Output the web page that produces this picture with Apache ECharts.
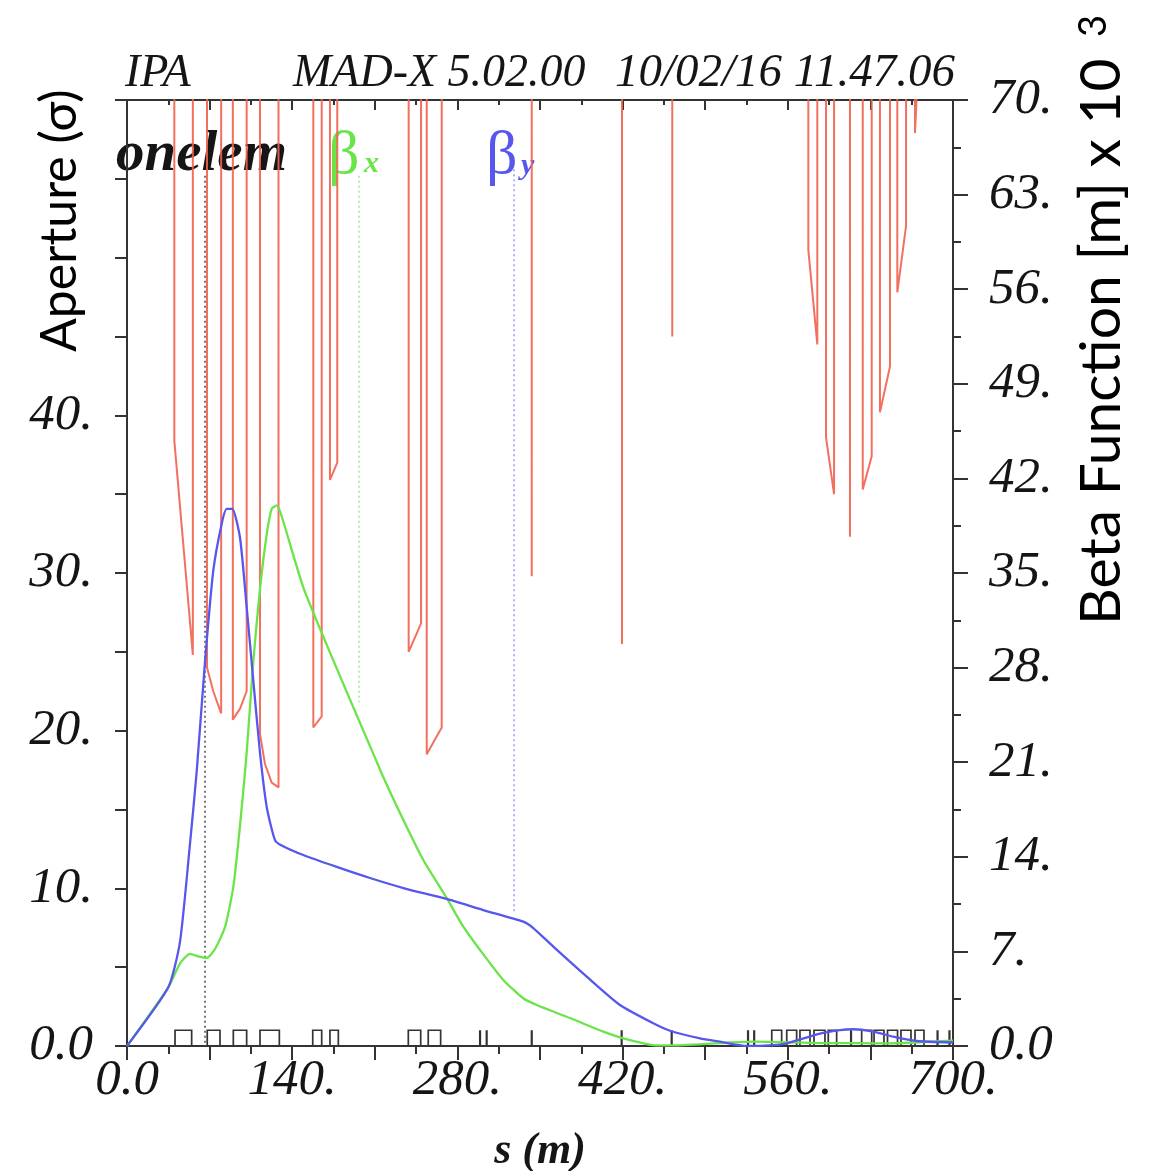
<!DOCTYPE html>
<html><head><meta charset="utf-8">
<script src="https://cdn.jsdelivr.net/npm/echarts@6/dist/echarts.min.js"></script>
<style>html,body{margin:0;padding:0;background:#fff}#c{width:1165px;height:1171px}</style>
</head><body><div id="c"></div>
<script>
// ---- data (s in m; aperture in sigma; beta in 1e3 m) ----
const xLabelValues = [0, 140, 280, 420, 560, 700];
const xLabelTexts = ['0.0', '140.', '280.', '420.', '560.', '700.'];
const apLabelValues = [0, 10, 20, 30, 40];
const apLabelTexts = ['0.0', '10.', '20.', '30.', '40.'];
const betaLabelValues = [0, 7, 14, 21, 28, 35, 42, 49, 56, 63, 70];
const betaLabelTexts = ['0.0', '7.', '14.', '21.', '28.', '35.', '42.', '49.', '56.', '63.', '70.'];

// aperture polyline; 100 = beyond the top of the plot (drift sections)
const aperture = [
  [40.1,100],[40.1,38.4],[55.8,24.8],[55.8,100],
  [67.8,100],[67.8,24.0],[73.1,22.5],[79.8,21.1],[79.8,100],
  [89.7,100],[89.7,20.7],[95.8,21.4],[101.4,22.5],[101.4,100],
  [112.7,100],[112.7,19.8],[116.9,17.9],[122.6,16.7],[128.4,16.4],[128.4,100],
  [157.9,100],[157.9,20.2],[165.0,20.9],[165.0,100],
  [172.0,100],[172.0,35.9],[178.2,37.0],[178.2,100],
  [238.7,100],[238.7,25.0],[249.2,26.8],[249.2,100],
  [254.0,100],[254.0,18.5],[266.7,20.2],[266.7,100],
  [343.0,100],[343.0,29.8],[343.0,100],
  [419.5,100],[419.5,25.5],[419.5,100],
  [462.1,100],[462.1,45.0],[462.1,100],
  [577.4,100],[577.4,50.5],[585.0,44.5],[585.0,100],
  [592.4,100],[592.4,38.6],[599.2,35.0],[599.2,100],
  [612.7,100],[612.7,32.3],[612.7,100],
  [623.5,100],[623.5,35.3],[631.1,37.4],[631.1,100],
  [638.1,100],[638.1,40.2],[646.6,43.1],[646.6,100],
  [652.8,100],[652.8,47.8],[660.2,52.0],[660.2,100],
  [667.8,100],[667.8,57.9],[669.7,61.0],[669.7,100]
];

const betaX = [
  [0,0],[35.0,4.34],[44.9,6.10],[53.4,6.82],[60.4,6.63],[67.5,6.51],[74.6,7.18],[83.1,8.81],
  [90.1,11.77],[95.8,16.35],[101.4,21.68],[107.0,28.42],[112.7,33.82],[118.4,37.85],[122.6,39.74],
  [126.9,40.0],[131.1,39.2],[150.8,33.6],[217.2,19.9],[234.2,16.72],
  [251.1,13.76],[270.9,10.95],[285.0,8.83],[299.2,7.10],[318.9,4.88],[335.8,3.53],[347.2,3.03],
  [375.4,2.07],[403.6,1.06],[420.6,0.57],[446.0,0.07],[460.2,0.04],[502.5,0.22],[530.5,0.32],
  [587.3,0.22],[643.8,0.20],[700,0.39]
];

const betaY = [
  [0,0],[35.0,4.34],[44.9,7.70],[53.4,14.98],[59.1,20.35],[66.1,28.42],[73.1,35.15],[80.3,38.66],
  [84.5,39.74],[89.2,39.74],[95.8,37.59],[101.4,32.49],[107.0,27.08],[112.7,21.70],[118.4,17.69],
  [125.4,15.24],[131.1,14.84],[149.4,14.13],[177.7,13.25],[205.9,12.43],[234.2,11.69],[270.9,10.88],
  [301.9,10.06],[335.8,9.20],[344.3,8.73],[361.3,7.35],[389.6,5.13],[417.8,3.03],[446.0,1.68],
  [460.2,1.13],[485.6,0.57],[502.5,0.32],[525.2,0.0],[547.7,0.07],[559.1,0.20],[587.3,0.92],
  [604.2,1.18],[615.5,1.24],[632.5,1.06],[649.4,0.69],[669.2,0.37],[700,0.26]
];

// lattice elements along s: [start, end] (equal = thin element)
const elements = [
  [40.7,54.8],[68.0,78.8],[90.1,101.4],[112.7,129.1],[157.4,165.0],[172.0,179.1],
  [238.4,248.9],[255.3,265.8],[299.2,299.2],[304.8,304.8],[343.0,343.0],[419.2,419.2],
  [461.6,461.6],[526.3,526.3],[531.5,531.5],
  [546.4,554.8],[559.1,567.5],[570.3,578.8],[582.2,591.5],[594.3,601.4],[613.6,613.6],
  [622.6,631.1],[633.1,641.5],[644.5,653.0],[655.9,664.4],[667.8,675.4],[686.9,686.9],[697.0,697.0]
];

// label guide lines (s, aperture)
const guideBlack = [[66.1,55.2],[66.1,0]];
const guideX = [[196.6,55.2],[196.6,21.8]];
const guideY = [[328.0,55.6],[328.0,8.5]];

// ---- chart ----
const SERIF = '"Liberation Serif", "Times New Roman", serif';
const SANS = 'Lato, "Open Sans", sans-serif';
const AX = '#333';
const GREEN = '#6ae449';
const BLUE = '#5757ee';
const RED = '#f2604e';
const ELEM_H = 1.0;

function pick(vals, texts) {
  return function (v) { const i = vals.indexOf(Math.round(v * 1000) / 1000); return i >= 0 ? texts[i] : ''; };
}
const lblStyle = { fontFamily: SERIF, fontStyle: 'italic', fontSize: 51, color: '#151515' };

const chart = echarts.init(document.getElementById('c'), null, { renderer: 'canvas' });
chart.setOption({
  animation: false,
  backgroundColor: '#fff',
  grid: { left: 127, right: 212, top: 100, bottom: 125, containLabel: false, outerBoundsMode: 'none' },
  xAxis: [
    {
      type: 'value', position: 'bottom', min: 0, max: 700, interval: 70,
      axisLine: { show: true, onZero: false, lineStyle: { color: AX, width: 2 } },
      axisTick: { show: true, length: 14, lineStyle: { color: AX, width: 2 } },
      minorTick: { show: true, splitNumber: 2, length: 8, lineStyle: { color: AX, width: 2 } },
      splitLine: { show: false },
      axisLabel: Object.assign({ margin: 9, formatter: pick(xLabelValues, xLabelTexts) }, lblStyle),
      name: 's (m)', nameLocation: 'middle', nameGap: 84,
      nameTextStyle: { fontFamily: SERIF, fontStyle: 'italic', fontWeight: 'bold', fontSize: 44, color: '#151515' }
    },
    {
      type: 'value', position: 'top', min: 0, max: 700, interval: 70,
      axisLine: { show: true, onZero: false, lineStyle: { color: AX, width: 2 } },
      axisTick: { show: true, inside: true, length: 10, lineStyle: { color: AX, width: 2 } },
      minorTick: { show: true, splitNumber: 2, length: 5, lineStyle: { color: AX, width: 2 } },
      splitLine: { show: false },
      axisLabel: { show: false }
    }
  ],
  yAxis: [
    {
      type: 'value', position: 'left', min: 0, max: 60, interval: 10,
      axisLine: { show: true, onZero: false, lineStyle: { color: AX, width: 2 } },
      axisTick: { show: true, length: 12, lineStyle: { color: AX, width: 2 } },
      minorTick: { show: true, splitNumber: 2, length: 12, lineStyle: { color: AX, width: 2 } },
      splitLine: { show: false },
      axisLabel: Object.assign({ margin: 34, formatter: pick(apLabelValues, apLabelTexts) }, lblStyle)
    },
    {
      type: 'value', position: 'right', min: 0, max: 70, interval: 7,
      axisLine: { show: true, onZero: false, lineStyle: { color: AX, width: 2 } },
      axisTick: { show: true, length: 15, lineStyle: { color: AX, width: 2 } },
      minorTick: { show: true, splitNumber: 2, length: 8, lineStyle: { color: AX, width: 2 } },
      splitLine: { show: false },
      axisLabel: Object.assign({ margin: 36, formatter: pick(betaLabelValues, betaLabelTexts) }, lblStyle)
    }
  ],
  series: [
    {
      name: 'aperture', type: 'line', xAxisIndex: 0, yAxisIndex: 0, data: aperture,
      symbol: 'none', clip: true, lineStyle: { color: RED, width: 2, opacity: 0.9 }, z: 3
    },
    {
      name: 'elements', type: 'custom', xAxisIndex: 0, yAxisIndex: 0, data: elements,
      encode: { x: [0, 1] }, clip: true, z: 4,
      renderItem: function (params, api) {
        const s1 = api.value(0), s2 = api.value(1);
        const p0 = api.coord([s1, 0]), p1 = api.coord([s1, ELEM_H]);
        const p2 = api.coord([s2, ELEM_H]), p3 = api.coord([s2, 0]);
        const pts = s1 === s2 ? [p0, p1] : [p0, p1, p2, p3];
        return { type: 'polyline', shape: { points: pts }, style: { stroke: '#333', lineWidth: s1 === s2 ? 2.2 : 1.7, fill: null } };
      }
    },
    {
      name: 'guide', type: 'line', yAxisIndex: 0, data: guideBlack, symbol: 'none',
      lineStyle: { color: '#555', width: 1.6, type: [2, 3] }, z: 2
    },
    {
      name: 'guideX', type: 'line', yAxisIndex: 0, data: guideX, symbol: 'none',
      lineStyle: { color: '#9ef088', width: 1.6, type: [2, 3] }, z: 2
    },
    {
      name: 'guideY', type: 'line', yAxisIndex: 0, data: guideY, symbol: 'none',
      lineStyle: { color: '#a0a0f8', width: 1.6, type: [2, 3] }, z: 2
    },
    {
      name: 'betx', type: 'line', xAxisIndex: 0, yAxisIndex: 1, data: betaX,
      symbol: 'none', smooth: 0.2, lineStyle: { color: GREEN, width: 2.3 }, z: 5
    },
    {
      name: 'bety', type: 'line', xAxisIndex: 0, yAxisIndex: 1, data: betaY,
      symbol: 'none', smooth: 0.2, lineStyle: { color: BLUE, width: 2.3 }, z: 5
    }
  ],
  graphic: [
    { type: 'text', x: 125, y: 74, style: { text: 'IPA', font: 'italic 46px ' + SERIF, fill: '#151515', textVerticalAlign: 'middle' } },
    { type: 'text', x: 293, y: 74, style: { text: 'MAD-X 5.02.00', font: 'italic 46px ' + SERIF, fill: '#151515', textVerticalAlign: 'middle' } },
    { type: 'text', x: 615, y: 74, style: { text: '10/02/16 11.47.06', font: 'italic 47px ' + SERIF, fill: '#151515', textVerticalAlign: 'middle' } },
    { type: 'text', x: 116, y: 155, style: { text: 'onelem', font: 'italic bold 57px ' + SERIF, fill: '#151515', textVerticalAlign: 'middle' } },
    { type: 'text', x: 328, y: 157, style: { text: 'β', font: '62px ' + SERIF, fill: GREEN, textVerticalAlign: 'middle' } },
    { type: 'text', x: 364, y: 164, style: { text: 'x', font: 'italic bold 30px ' + SERIF, fill: GREEN, textVerticalAlign: 'middle' } },
    { type: 'text', x: 486, y: 157, style: { text: 'β', font: '62px ' + SERIF, fill: BLUE, textVerticalAlign: 'middle' } },
    { type: 'text', x: 521, y: 166, style: { text: 'y', font: 'italic bold 30px ' + SERIF, fill: BLUE, textVerticalAlign: 'middle' } },
    { type: 'text', x: 60, y: 352, rotation: Math.PI / 2, style: { text: 'Aperture (σ)', font: '50px ' + SANS, fill: '#000', textAlign: 'left', textVerticalAlign: 'middle' } },
    { type: 'text', x: 1102, y: 625, rotation: Math.PI / 2, style: { text: 'Beta Function [m] x 10', font: '57px ' + SANS, fill: '#000', textAlign: 'left', textVerticalAlign: 'middle' } },
    { type: 'text', x: 1094, y: 26, rotation: Math.PI / 2, style: { text: '3', font: '38px ' + SANS, fill: '#000', textAlign: 'center', textVerticalAlign: 'middle' } }
  ]
});
</script></body></html>
